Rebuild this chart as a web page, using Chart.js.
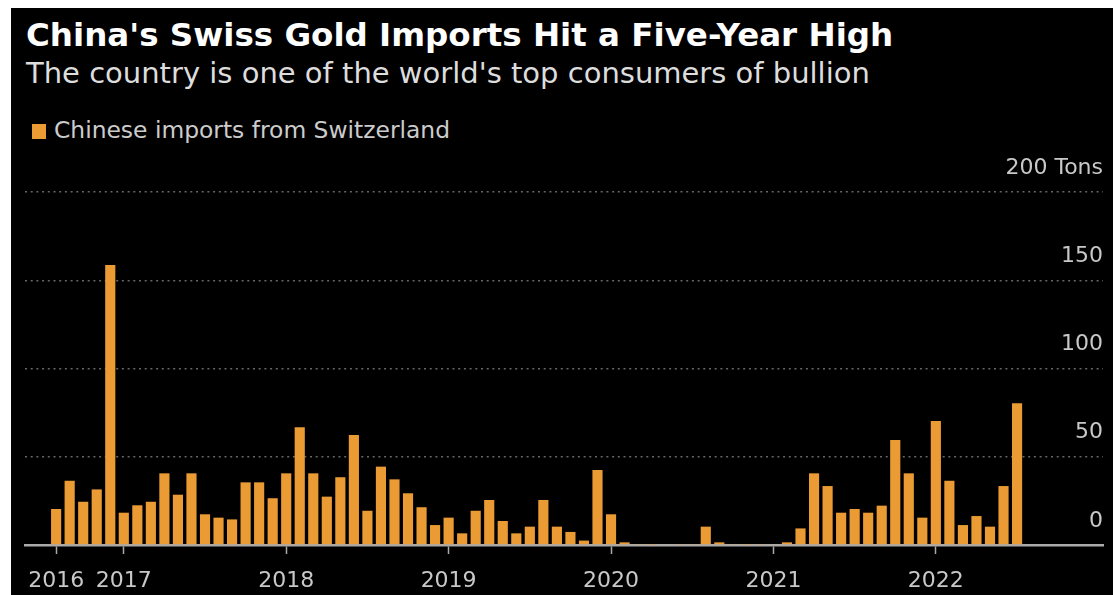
<!DOCTYPE html>
<html>
<head>
<meta charset="utf-8">
<script src="https://cdn.jsdelivr.net/npm/chart.js@4"></script>
<style>
  html, body { margin: 0; padding: 0; background: #fff; }
  #panel { position: absolute; left: 11px; top: 8px; width: 1102px; height: 587px; background: #000; overflow: hidden; }
  .txt { position: absolute; font-family: "DejaVu Sans", sans-serif; white-space: nowrap; line-height: 1; }
  #title { left: 15px; top: 11px; font-size: 32.5px; font-weight: bold; color: #fff; }
  #subtitle { left: 15px; top: 51px; font-size: 29px; color: #ddd; }
  #legend { left: 21px; top: 111px; font-size: 23.4px; color: #ccc; }
  #legend .box { display: inline-block; width: 14px; height: 15px; margin-right: 8px; vertical-align: -1px; }
  #wrap { position: absolute; left: 0; top: 142px; width: 1102px; height: 445px; }
</style>
</head>
<body>
<div id="panel">
  <div id="title" class="txt">China's Swiss Gold Imports Hit a Five-Year High</div>
  <div id="subtitle" class="txt">The country is one of the world's top consumers of bullion</div>
  <div id="legend" class="txt"></div>
  <div id="wrap"><canvas id="chart"></canvas></div>
</div>
<script>
// monthly, Aug 2016 - Jul 2022
const months = [
  '2016-08','2016-09','2016-10','2016-11','2016-12',
  '2017-01','2017-02','2017-03','2017-04','2017-05','2017-06','2017-07','2017-08','2017-09','2017-10','2017-11','2017-12',
  '2018-01','2018-02','2018-03','2018-04','2018-05','2018-06','2018-07','2018-08','2018-09','2018-10','2018-11','2018-12',
  '2019-01','2019-02','2019-03','2019-04','2019-05','2019-06','2019-07','2019-08','2019-09','2019-10','2019-11','2019-12',
  '2020-01','2020-02','2020-03','2020-04','2020-05','2020-06','2020-07','2020-08','2020-09','2020-10','2020-11','2020-12',
  '2021-01','2021-02','2021-03','2021-04','2021-05','2021-06','2021-07','2021-08','2021-09','2021-10','2021-11','2021-12',
  '2022-01','2022-02','2022-03','2022-04','2022-05','2022-06','2022-07'
];
const importsTons = [
  20.4, 36.4, 24.5, 31.5, 158.6,
  18.3, 22.5, 24.5, 40.6, 28.5, 40.6, 17.4, 15.5, 14.5, 35.5, 35.5, 26.5,
  40.6, 66.7, 40.6, 27.4, 38.4, 62.3, 19.4, 44.4, 37.2, 29.3, 21.4, 11.3,
  15.5, 6.6, 19.4, 25.5, 13.6, 6.6, 10.4, 25.5, 10.4, 7.4, 2.5, 42.5,
  17.4, 1.5, 0.3, 0.2, 0.4, 0.3, 0.3, 10.4, 1.5, 0.3, 0.2, 0.3,
  0.4, 1.5, 9.4, 40.6, 33.4, 18.3, 20.4, 18.3, 22.3, 59.5, 40.6, 15.5,
  70.2, 36.4, 11.3, 16.4, 10.4, 33.4, 80.3
];
const seriesLabel = 'Chinese imports from Switzerland';
const yearTickIndex = [0, 5, 17, 29, 41, 53, 65];
const yearTickLabels = ['2016', '2017', '2018', '2019', '2020', '2021', '2022'];
const valueTicks = [0, 50, 100, 150, 200];
const unit = 'Tons';

const barColor = '#EB9B34';

document.getElementById('legend').innerHTML =
  '<span class="box" style="background:' + barColor + '"></span>' + seriesLabel;

const font = { family: 'DejaVu Sans', size: 22 };

new Chart(document.getElementById('chart'), {
  type: 'bar',
  data: {
    datasets: [{
      label: seriesLabel,
      data: importsTons.map((v, i) => ({ x: i, y: v, m: months[i] })),
      backgroundColor: barColor,
      barPercentage: 0.75,
      categoryPercentage: 1
    }]
  },
  options: {
    responsive: true,
    maintainAspectRatio: false,
    animation: false,
    layout: { padding: { top: 42, left: 14, right: 10, bottom: 0 } },
    plugins: { legend: { display: false }, tooltip: { enabled: false } },
    scales: {
      x: {
        type: 'linear',
        offset: false,
        min: -2.3,
        max: 77.35,
        afterBuildTicks: (s) => { s.ticks = yearTickIndex.map(v => ({ value: v })); },
        afterFit: (s) => { s.height = 50; },
        ticks: {
          autoSkip: false,
          maxRotation: 0,
          padding: 14,
          color: '#c8c8c8',
          font: font,
          callback: (v) => yearTickLabels[yearTickIndex.indexOf(v)]
        },
        grid: { offset: false, drawOnChartArea: false, drawTicks: true, tickLength: 9, tickColor: '#aaa', tickWidth: 1.5 },
        border: { display: true, color: '#aaa', width: 2.5 }
      },
      y: {
        position: 'right',
        min: 0,
        max: 200,
        afterBuildTicks: (s) => { s.ticks = valueTicks.map(v => ({ value: v })); },
        afterFit: (s) => { s.width = 0; },
        ticks: {
          mirror: true,
          padding: 0,
          labelOffset: -24,
          color: '#c8c8c8',
          font: font,
          callback: (v) => v === 200 ? v + ' ' + unit : v
        },
        grid: { color: '#666', lineWidth: 1.5, drawTicks: false },
        border: { display: false, dash: [2, 3.7] }
      }
    }
  }
});
</script>
</body>
</html>
